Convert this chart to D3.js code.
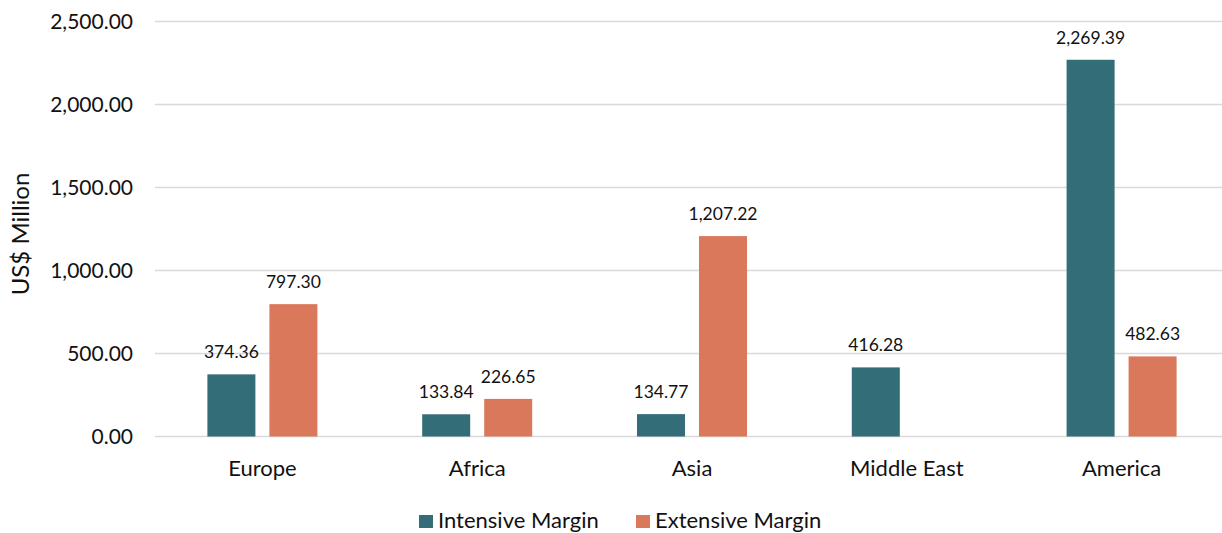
<!DOCTYPE html>
<html>
<head>
<meta charset="utf-8">
<script src="https://cdn.jsdelivr.net/npm/d3@7"></script>
<style>
  html, body { margin: 0; padding: 0; background: #fff; }
  svg { display: block; font-family: Lato, "Open Sans", sans-serif; }
</style>
</head>
<body>
<svg id="chart" width="1222" height="533"></svg>
<script>
// Regions and the two margin series (US$ million)
const regions = ["Europe", "Africa", "Asia", "Middle East", "America"];
const seriesNames = ["Intensive Margin", "Extensive Margin"];
const intensiveMargin = [374.36, 133.84, 134.77, 416.28, 2269.39];
const extensiveMargin = [797.30, 226.65, 1207.22, null, 482.63];
const yTicks = [0, 500, 1000, 1500, 2000, 2500];
const colors = ["#336d78", "#d9785a"];

const svg = d3.select("#chart");

const x0 = d3.scaleBand().domain(regions).range([155, 1229]).paddingInner(0).paddingOuter(0);
const x1 = d3.scaleBand().domain(seriesNames).range([0, x0.bandwidth()]).paddingInner(0.226).paddingOuter(0.845);
const y = d3.scaleLinear().domain([0, 2500]).range([436.5, 21.5]);

const fmt = d3.format(",.2f");

// Horizontal gridlines + y tick labels
const yAxis = d3.axisLeft(y).tickValues(yTicks).tickFormat(fmt).tickSize(0).tickPadding(22);
const gy = svg.append("g").attr("transform", "translate(155,0)").call(yAxis);
gy.select(".domain").remove();
gy.selectAll("text").attr("font-size", 21).attr("fill", "#111").attr("font-family", "Lato, sans-serif");

svg.append("g").selectAll("line").data(yTicks).join("line")
  .attr("x1", 155).attr("x2", 1222)
  .attr("y1", d => y(d)).attr("y2", d => y(d))
  .attr("stroke", "#d9d9d9").attr("stroke-width", 1.6);

// Bars
const rows = regions.map((r, i) => ({ region: r, values: [intensiveMargin[i], extensiveMargin[i]] }));
const groups = svg.append("g").selectAll("g").data(rows).join("g")
  .attr("transform", d => `translate(${x0(d.region)},0)`);

const cells = groups.selectAll("g.cell")
  .data(d => d.values.map((v, j) => ({ name: seriesNames[j], value: v, j })).filter(c => c.value != null))
  .join("g").attr("class", "cell");

cells.append("rect")
  .attr("x", d => x1(d.name))
  .attr("width", x1.bandwidth())
  .attr("y", d => y(d.value))
  .attr("height", d => y(0) - y(d.value))
  .attr("fill", d => colors[d.j]);

cells.append("text")
  .attr("x", d => x1(d.name) + x1.bandwidth() / 2)
  .attr("y", d => y(d.value) - 16)
  .attr("text-anchor", "middle")
  .attr("font-size", 17.5)
  .attr("fill", "#111")
  .text(d => fmt(d.value));

// Category axis labels
const xAxis = d3.axisBottom(x0).tickSize(0).tickPadding(24);
const gx = svg.append("g").attr("transform", `translate(0,${y(0)})`).call(xAxis);
gx.select(".domain").remove();
gx.selectAll("text").attr("font-size", 22).attr("fill", "#111").attr("font-family", "Lato, sans-serif");

// Y axis title
svg.append("text")
  .attr("transform", "translate(29,234) rotate(-90)")
  .attr("text-anchor", "middle")
  .attr("font-size", 24)
  .attr("fill", "#111")
  .text("US$ Million");

// Legend
const legendX = [419, 636];
const legend = svg.append("g").selectAll("g").data(seriesNames).join("g")
  .attr("transform", (d, i) => `translate(${legendX[i]},515)`);
legend.append("rect").attr("width", 14).attr("height", 13).attr("fill", (d, i) => colors[i]);
legend.append("text").attr("x", 19).attr("y", 13)
  .attr("font-size", 22).attr("fill", "#111").text(d => d);
</script>
</body>
</html>
